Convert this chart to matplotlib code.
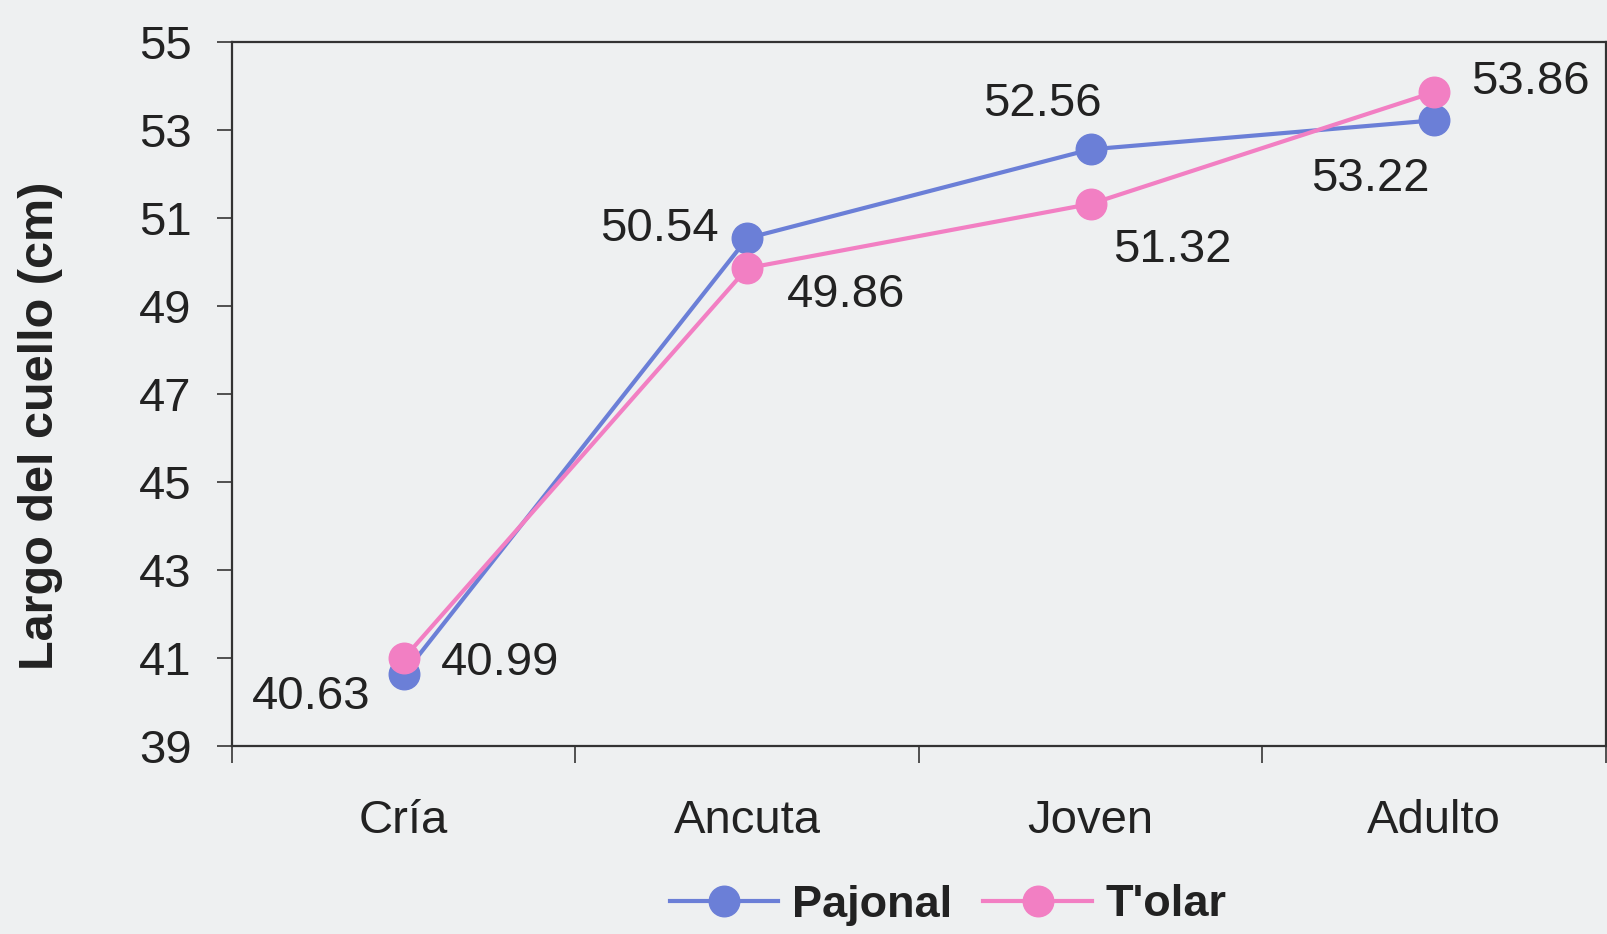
import matplotlib
matplotlib.use('Agg')
import matplotlib.pyplot as plt

plt.rcParams['font.family'] = ['Liberation Sans', 'DejaVu Sans']

categorias = ['Cría', 'Ancuta', 'Joven', 'Adulto']
pajonal = [40.63, 50.54, 52.56, 53.22]
tolar = [40.99, 49.86, 51.32, 53.86]

# label offsets in points for each point label
off_pajonal = [(-67, -16), (-63, 7), (-35, 33), (-46, -42)]
off_tolar = [(69, -3), (71, -19), (59, -33), (69, 7)]

bg = '#eef0f1'
ink = '#222222'
azul = '#6b7fd7'
rosa = '#f27fc3'

fig = plt.figure(figsize=(16.08, 9.34), dpi=100, facecolor=bg)
ax = fig.add_axes([232/1608, 1 - 746/934, (1606 - 232)/1608, (746 - 42)/934])
ax.set_facecolor(bg)

x = [i + 0.5 for i in range(len(categorias))]
ax.plot(x, pajonal, color=azul, lw=3, marker='o', ms=22, mec=azul, mfc=azul,
        label='Pajonal', zorder=3)
ax.plot(x, tolar, color=rosa, lw=3, marker='o', ms=22, mec=rosa, mfc=rosa,
        label="T'olar", zorder=4)

for xi, v, off in zip(x, pajonal, off_pajonal):
    ax.annotate(f'{v:.2f}', (xi, v), xytext=off, textcoords='offset points',
                ha='center', va='center', fontsize=34, color=ink)
for xi, v, off in zip(x, tolar, off_tolar):
    ax.annotate(f'{v:.2f}', (xi, v), xytext=off, textcoords='offset points',
                ha='center', va='center', fontsize=34, color=ink)

ax.set_xlim(0, 4)
ax.set_ylim(39, 55)
ax.set_yticks(range(39, 56, 2))
ax.set_xticks(range(5))
ax.set_xticklabels([])
ax.set_xticks(x, minor=True)
ax.set_xticklabels(categorias, minor=True)
ax.tick_params(axis='x', which='major', length=12, width=1.3, color='#444444', direction='out')
ax.tick_params(axis='x', which='minor', length=0, pad=38, labelsize=34, labelcolor=ink)
ax.tick_params(axis='y', length=11, width=1.3, color='#444444', direction='out',
               pad=18, labelsize=34, labelcolor=ink)

for s in ax.spines.values():
    s.set_color('#333333')
    s.set_linewidth(1.6)

ax.set_ylabel('Largo del cuello (cm)', fontsize=35, fontweight='bold', color=ink)
ax.yaxis.set_label_coords(-0.123, 0.455)

leg = fig.legend(loc='center', bbox_to_anchor=(948/1608, 1 - 905/934), ncol=2,
                 frameon=False, handlelength=2.4, columnspacing=0.7,
                 handletextpad=0.3, prop={'size': 32.5, 'weight': 'bold'})
for t in leg.get_texts():
    t.set_color(ink)

fig.savefig('out.png', dpi=100, facecolor=bg)
